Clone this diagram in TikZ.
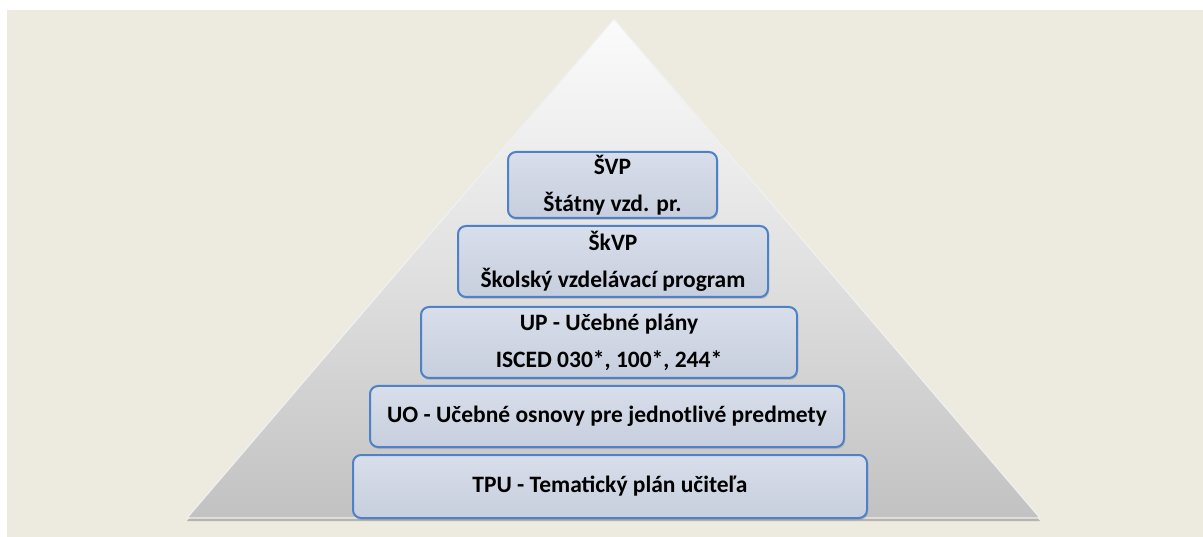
\documentclass[tikz,border=0pt]{standalone}
\usepackage{fontspec}
\setmainfont{Carlito}
\usetikzlibrary{shadows}
\definecolor{paperBeige}{RGB}{237,234,224}
\definecolor{planBorder}{RGB}{79,129,199}
\definecolor{planTop}{RGB}{216,222,234}
\definecolor{planBottom}{RGB}{199,206,221}

\begin{document}
\begin{tikzpicture}[x = 1pt, y = -1pt]
	\tikzstyle{pyramidStyle} = [top color = white!97!gray, bottom color = black!24, middle color = black!12, draw = white!88!gray, line width = 1.2pt, drop shadow = {shadow xshift = 0pt, shadow yshift = -3pt, opacity = 0.5}]
	\tikzstyle{planStyle} = [shape = rectangle, rounded corners = 8pt, draw = planBorder, line width = 2pt, top color = planTop, bottom color = planBottom, align = center, inner sep = 0pt, font = \fontsize{23.5}{37}\selectfont\bfseries, drop shadow = {shadow xshift = 1pt, shadow yshift = -2pt, opacity = 0.3}]
	\useasboundingbox (0,0) rectangle (1203,537);
	\fill[white] (0,0) rectangle (1203,537);
	\fill[paperBeige] (7,10) rectangle (1203,537);
	\path[pyramidStyle] (614,19) -- (1040,518) -- (187,518) -- cycle;
	\node[planStyle, minimum width = 209pt, minimum height = 66pt] (svp) at (612.5,185) {ŠVP\\Štátny vzd. pr.};
	\node[planStyle, minimum width = 310pt, minimum height = 71pt] (skvp) at (613,261.5) {ŠkVP\\Školský vzdelávací program};
	\node[planStyle, minimum width = 376pt, minimum height = 71pt] (up) at (609,342.5) {UP - Učebné plány\\ISCED 030*, 100*, 244*};
	\node[planStyle, minimum width = 474pt, minimum height = 61pt] (uo) at (607,416.5) {UO - Učebné osnovy pre jednotlivé predmety};
	\node[planStyle, minimum width = 514pt, minimum height = 63pt] (tpu) at (610,486.5) {TPU - Tematický plán učiteľa};
\end{tikzpicture}
\end{document}
